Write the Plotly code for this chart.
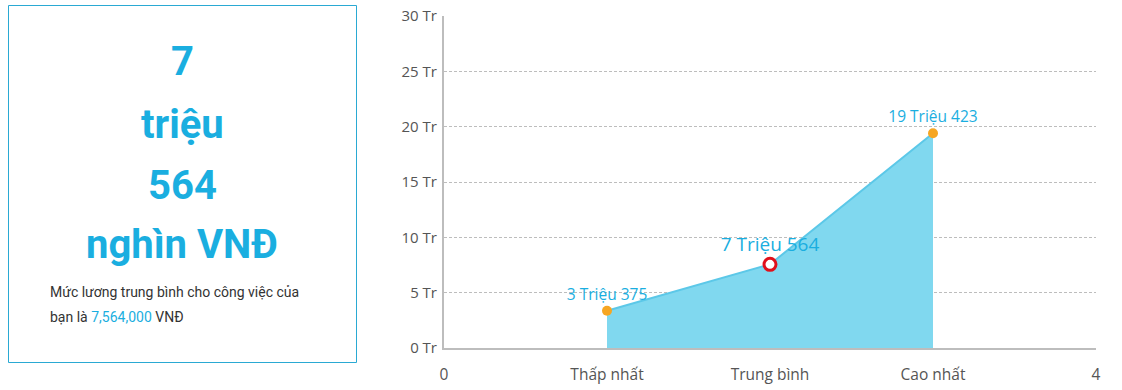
import plotly.graph_objects as go

# Data
categories = ["Thấp nhất", "Trung bình", "Cao nhất"]
x_pos = [1, 2, 3]
values = [3.375, 7.564, 19.423]  # million VND
labels = ["3 Triệu 375", "7 Triệu 564", "19 Triệu 423"]
y_ticks = [0, 5, 10, 15, 20, 25, 30]
y_tick_text = [f"{v} Tr" for v in y_ticks]
x_ticks = [0, 1, 2, 3, 4]
x_tick_text = ["0"] + categories + ["4"]

BLUE = "#1aaee0"
FILL = "#80d8ef"
LINE = "#5cc8e8"
ORANGE = "#f6a623"

W, H = 1122, 390
# screen coordinates of plot area: left 444, right 1096, top 16, bottom 348
L, R, T, B = 444, W - 1096, 16, H - 348
pw, ph = W - L - R, H - T - B

def px(x):
    return (x - L) / pw

def py(y):
    return (H - B - y) / ph

fig = go.Figure()

fig.add_trace(go.Scatter(
    x=x_pos, y=values, mode="lines", fill="tozeroy",
    fillcolor=FILL, line=dict(color=LINE, width=2),
    hoverinfo="skip", showlegend=False))

# min / max markers
fig.add_trace(go.Scatter(
    x=[x_pos[0], x_pos[2]], y=[values[0], values[2]], mode="markers+text",
    marker=dict(color=ORANGE, size=10),
    text=[labels[0], labels[2]], textposition="top center",
    textfont=dict(color=BLUE, size=15.5, family="Open Sans"),
    showlegend=False))

# average marker
fig.add_trace(go.Scatter(
    x=[x_pos[1]], y=[values[1]], mode="markers+text",
    marker=dict(color="white", size=12, line=dict(color="#e0101b", width=3)),
    text=[labels[1]], textposition="top center",
    textfont=dict(color=BLUE, size=19, family="Open Sans"),
    showlegend=False))

fig.update_layout(
    width=W, height=H,
    margin=dict(l=L, r=R, t=T, b=B, autoexpand=False),
    paper_bgcolor="white", plot_bgcolor="white",
    font=dict(family="Open Sans", color="#555", size=15),
    xaxis=dict(range=[0, 4], tickvals=x_ticks, ticktext=x_tick_text,
               showgrid=False, zeroline=False, showline=True,
               linecolor="#bdbdbd", linewidth=2, automargin=False,
               ticks="outside", ticklen=11, tickcolor="rgba(0,0,0,0)",
               ticklabeloverflow="allow",
               tickfont=dict(size=15.5, color="#555"), fixedrange=True),
    yaxis=dict(range=[0, 30.02], tickvals=y_ticks, ticktext=y_tick_text,
               showgrid=True, gridcolor="#bdbdbd", griddash="3px,2px", gridwidth=1,
               zeroline=False, showline=True, linecolor="#bdbdbd", linewidth=2,
               automargin=False,
               ticks="outside", ticklen=2, tickcolor="rgba(0,0,0,0)",
               ticklabeloverflow="allow",
               tickfont=dict(size=15, color="#555"), fixedrange=True),
)

# Left info box
fig.add_shape(type="rect", xref="paper", yref="paper",
              x0=px(8.5), x1=px(356.5), y0=py(362.5), y1=py(5.5),
              line=dict(color="#2aa9d3", width=1), fillcolor="rgba(0,0,0,0)")

big_lines = ["7", "triệu", "564", "nghìn VNĐ"]
big_y = [62, 124, 185, 245]
for t, yy in zip(big_lines, big_y):
    fig.add_annotation(xref="paper", yref="paper", x=px(182), y=py(yy),
                       text=f"<b>{t}</b>", showarrow=False,
                       font=dict(family="Roboto", size=40, color=BLUE),
                       xanchor="center", yanchor="middle")

fig.add_annotation(xref="paper", yref="paper", x=px(48), y=py(292),
                   text="Mức lương trung bình cho công việc của",
                   showarrow=False, xanchor="left", yanchor="middle",
                   font=dict(family="Roboto", size=14, color="#333"))
fig.add_annotation(xref="paper", yref="paper", x=px(48), y=py(317),
                   text=f"bạn là <span style='color:{BLUE}'>7,564,000</span> VNĐ",
                   showarrow=False, xanchor="left", yanchor="middle",
                   font=dict(family="Roboto", size=14, color="#333"))

fig.write_html("out.html", config={"displayModeBar": False},
               post_script="document.body.style.margin='0';document.body.style.overflow='hidden';")
